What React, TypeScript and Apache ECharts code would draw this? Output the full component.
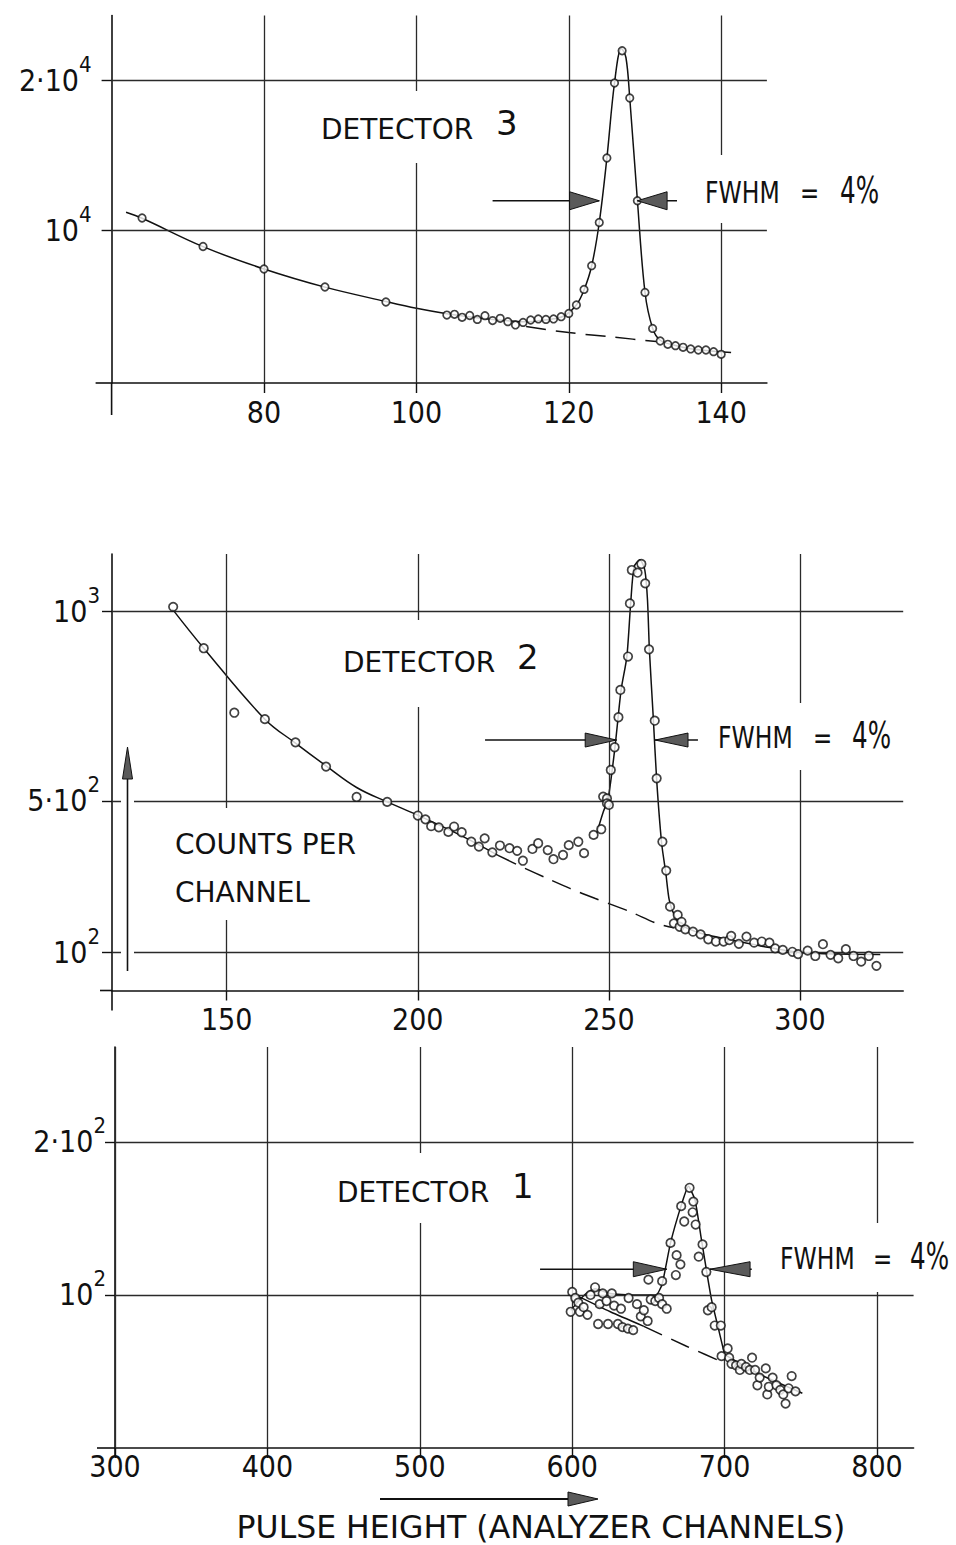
import React, { useEffect, useRef } from "react";
import * as echarts from "echarts";

// ---------------- DETECTOR 3 (top panel) ----------------
const det3Points: [number, number][] = [
  [64, 10800], [72, 8900], [80, 7400], [88, 6200], [96, 5200],
  [104, 4330], [105, 4380], [106, 4180], [107, 4300], [108, 4040], [109, 4290], [110, 3960],
  [111, 4110], [112, 3890], [113, 3670], [114, 3840], [115, 4000], [116, 4070], [117, 4040],
  [118, 4070], [119, 4220], [120, 4440], [121, 5000], [122, 6040], [123, 7620], [124, 10500],
  [125, 14800], [126, 19800], [127, 21950], [128, 18800], [129, 11950], [130, 5840], [131, 3440],
  [132, 2600], [133, 2380], [134, 2290], [135, 2180], [136, 2070], [137, 2000], [138, 2000],
  [139, 1890], [140, 1710],
];
const det3Fit: [number, number][] = [
  [61.9, 11180], [64, 10780], [72, 8890], [80, 7400], [88, 6190], [96, 5230], [100, 4780],
  [104, 4420], [108, 4150], [112, 3950], [114, 3880], [116, 3950], [118, 4080], [119.5, 4300],
  [121, 5000], [122, 6000], [123, 7600], [124, 10500], [125, 14800], [126, 19800], [126.9, 22100],
  [127.5, 21500], [128, 18800], [129, 12000], [130, 5850], [131, 3450], [132, 2650], [134, 2300],
  [136, 2080], [138, 1960], [141.3, 1830],
];
const det3Base: [number, number][] = [[114.4, 3560], [120, 3160], [126, 2850], [131.5, 2560]];
const det3XTicks = [80, 100, 120, 140];
const det3YTicks = [10000, 20000];
const det3YTickText = [["10", "4"], ["2·10", "4"]];

// ---------------- DETECTOR 2 (middle panel) ----------------
const det2Points: [number, number][] = [
  [136, 1011], [144, 902], [152, 732], [160, 715], [168, 654], [176, 590], [184, 510], [192, 497],
  [200, 461], [202, 451], [203.5, 433], [205.5, 430], [208, 418], [209.5, 432], [211.5, 417],
  [214, 392], [216, 379], [217.5, 401], [219.5, 364], [221.5, 382], [224, 375], [226, 368],
  [227.5, 342], [230, 373], [231.5, 388], [234, 370], [235.5, 346], [238, 357], [239.5, 383],
  [242, 392], [243.5, 362], [246, 410], [248, 425], [248.5, 511], [249.5, 506], [249.5, 493],
  [250, 489], [250.5, 581], [251.5, 641], [252.5, 720], [253, 792], [255, 880], [255.5, 1020],
  [256, 1108], [257.5, 1101], [258.5, 1124], [259.5, 1073], [260.5, 899], [262, 711], [262.5, 559],
  [264, 392], [265, 316], [266, 221], [267, 177], [268, 199], [268.5, 168], [269, 181], [270, 161],
  [272, 155], [274, 148], [276, 135], [278, 129], [280, 129], [281.5, 133], [282, 144], [284, 123],
  [286, 142], [288, 126], [290, 129], [292, 126], [293.5, 111], [295.5, 107], [298, 102],
  [299.5, 96], [302, 105], [304, 91], [306, 122], [308, 94], [310, 85], [312, 109], [314, 91],
  [316, 76], [318, 91], [320, 65],
];
const det2FitLeft: [number, number][] = [
  [135.8, 1005], [144, 902], [160, 715], [168, 652], [176, 592], [184, 535],
  [192, 497], [200, 462], [212, 405], [221, 356],
];
const det2FitPeak: [number, number][] = [
  [246.8, 414], [248.5, 470], [249.8, 505], [251.6, 642], [253.2, 792], [254.7, 880],
  [255.7, 1020], [256.6, 1117], [258.1, 1135], [259.4, 1108], [260.1, 1029], [260.6, 897],
  [261.6, 721], [262.5, 555], [263.8, 388], [264.9, 309], [265.8, 238], [267.3, 194], [269, 172],
  [274, 151], [284, 129], [292, 113], [300, 100], [310, 96], [321, 95],
];
const det2Base: [number, number][] = [
  [221, 356], [227.6, 324], [233.7, 296], [239.8, 269], [246.3, 243], [255.5, 208], [262.5, 177],
  [267, 165],
];
const det2XTicks = [150, 200, 250, 300];
const det2YTicks = [100, 500, 1000];
const det2YTickText = [["10", "2"], ["5·10", "2"], ["10", "3"]];

// ---------------- DETECTOR 1 (bottom panel) ----------------
const det1Points: [number, number][] = [
  [599, 89], [600, 102], [602, 98], [604, 95], [605, 89], [607.5, 92], [610, 87], [612, 100],
  [615, 105], [617, 81], [618, 94], [620, 101], [622.5, 96], [623.5, 81], [626, 101], [627.5, 93],
  [630, 81], [632, 91], [633, 79], [636.5, 78], [637, 98], [640, 77], [642.5, 94], [645, 86],
  [647, 90], [649.5, 83], [650, 110], [651.5, 97], [654.5, 96], [657, 98], [659, 109], [659, 94],
  [662, 91],
  [664.5, 134], [668.5, 126], [668, 113], [671, 120], [671.5, 158], [673.5, 148], [677, 170],
  [679, 154], [679.5, 161], [681, 146], [683, 125], [685.5, 133], [688, 115], [689, 90],
  [691.5, 92], [693.5, 80], [697.5, 80],
  [698, 60], [702, 65], [703, 59], [704.5, 55], [707.5, 54], [710, 51], [711, 55], [714, 53],
  [716.5, 51], [718, 59], [720, 51], [721.5, 41], [723, 46], [727, 52], [728, 35], [729, 40],
  [731.5, 46], [734, 41], [736.5, 38], [738.5, 35], [740, 29], [742, 39], [744, 47], [746.5, 37],
];
const det1FitPeak: [number, number][] = [
  [599, 90], [608, 100], [615, 104], [625, 101], [640, 100], [655, 100], [659, 107], [664.5, 134],
  [672, 160], [676.3, 171], [680.6, 162], [684.5, 138], [688.1, 116], [691.4, 97], [695.7, 79],
  [700, 61],
];
const det1FitTail: [number, number][] = [[700, 61], [724, 47.7], [751, 35.8]];
const det1BaseSolid: [number, number][] = [[600, 101], [625, 89], [647, 79.5]];
const det1BaseDash: [number, number][] = [[647, 79.5], [675, 66.5], [700, 55.5]];
const det1XTicks = [300, 400, 500, 600, 700, 800];
const det1YTicks = [100, 200];
const det1YTickText = [["10", "2"], ["2·10", "2"]];

// FWHM markers: [line start, arrow base, arrow tip] and [arrow tip, arrow base, line end]
const fwhmLevels = [11950, 660, 116.8];
const fwhmLeft = [[110, 120.1, 124], [217.6, 243.8, 252], [578.9, 640.1, 662]];
const fwhmRight = [[129, 132.9, 134.2], [262.1, 270.7, 273.3], [690.4, 716.7, 717.8]];

const INK = "#111";
const GRID = "#2a2a2a";
const LABEL_FONT = "'DejaVu Sans Condensed', 'DejaVu Sans', sans-serif";
const TEXT_FONT = "'DejaVu Sans', sans-serif";

const richY = {
  n: { fontSize: 30, lineHeight: 54, fontFamily: LABEL_FONT, color: INK },
  s: { fontSize: 22, lineHeight: 22, verticalAlign: "top", fontFamily: LABEL_FONT, color: INK },
};

function yFormatter(ticks: number[], text: string[][]) {
  return (v: number) => {
    const i = ticks.indexOf(v);
    if (i < 0) return "";
    return `{n|${text[i][0]}}{s|${text[i][1]}}`;
  };
}

function xAxis(grid: number, min: number, max: number, ticks: number[], margin: number) {
  return {
    type: "value",
    gridIndex: grid,
    min,
    max,
    axisLine: { show: true, onZero: false, lineStyle: { color: INK, width: 1.6 } },
    axisTick: { show: true, customValues: ticks, length: 10, lineStyle: { color: INK, width: 1.4 } },
    axisLabel: {
      show: true,
      customValues: ticks,
      margin,
      fontSize: 30,
      fontFamily: LABEL_FONT,
      color: INK,
    },
    splitLine: { show: false },
  };
}

function yAxis(grid: number, min: number, max: number, ticks: number[], text: string[][], margin: number) {
  return {
    type: "value",
    gridIndex: grid,
    min,
    max,
    axisLine: { show: true, onZero: false, lineStyle: { color: INK, width: 1.6 } },
    axisTick: { show: true, customValues: ticks, length: 10, lineStyle: { color: INK, width: 1.4 } },
    axisLabel: {
      show: true,
      customValues: ticks,
      margin,
      formatter: yFormatter(ticks, text),
      rich: richY,
    },
    splitLine: { show: false },
  };
}

function gridLines(xs: number[], ys: number[]) {
  return {
    silent: true,
    symbol: ["none", "none"],
    label: { show: false },
    lineStyle: { color: GRID, width: 1.3, type: "solid" },
    emphasis: { disabled: true },
    data: [...xs.map((x) => ({ xAxis: x })), ...ys.map((y) => ({ yAxis: y }))],
  };
}

function points(grid: number, data: [number, number][], xs: number[], ys: number[], size: number) {
  return {
    type: "scatter",
    xAxisIndex: grid,
    yAxisIndex: grid,
    data,
    symbol: "circle",
    symbolSize: size,
    itemStyle: { color: "#fff", borderColor: INK, borderWidth: 1.7 },
    z: 5,
    silent: true,
    markLine: gridLines(xs, ys),
  };
}

function curve(grid: number, data: [number, number][], dashed: boolean, smooth: number) {
  return {
    type: "line",
    xAxisIndex: grid,
    yAxisIndex: grid,
    data,
    showSymbol: false,
    symbol: "none",
    smooth,
    silent: true,
    lineStyle: { color: INK, width: 1.5, type: dashed ? [20, 10] : "solid" },
    z: 4,
  };
}

const option = {
  animation: false,
  backgroundColor: "#fff",
  grid: [
    { left: 111.6, top: 15.5, width: 655.3, height: 367.5 },
    { left: 112, top: 554.1, width: 791.2, height: 436.4 },
    { left: 115, top: 1047, width: 798.6, height: 401 },
  ],
  xAxis: [
    xAxis(0, 60, 146, det3XTicks, 14),
    xAxis(1, 120, 327, det2XTicks, 14),
    xAxis(2, 300, 824, det1XTicks, 3),
  ],
  yAxis: [
    yAxis(0, -200, 24300, det3YTicks, det3YTickText, 20),
    yAxis(1, 0, 1150, det2YTicks, det2YTickText, 12),
    yAxis(2, 0, 262, det1YTicks, det1YTickText, 9),
  ],
  series: [
    points(0, det3Points, det3XTicks, det3YTicks, 7.5),
    curve(0, det3Fit, false, 0.35),
    curve(0, det3Base, true, 0.3),
    points(1, det2Points, det2XTicks, det2YTicks, 8.5),
    curve(1, det2FitLeft, false, 0.4),
    curve(1, det2FitPeak, false, 0.25),
    curve(1, det2Base, true, 0.3),
    points(2, det1Points, det1XTicks, det1YTicks, 8.5),
    curve(2, det1FitPeak, false, 0.15),
    curve(2, det1FitTail, false, 0.2),
    curve(2, det1BaseSolid, false, 0.2),
    curve(2, det1BaseDash, true, 0.2),
  ],
};

export default function App() {
  const ref = useRef<HTMLDivElement>(null);
  useEffect(() => {
    if (!ref.current) return;
    const chart = echarts.init(ref.current, undefined, { renderer: "svg" });
    chart.setOption(option as any);

    const px = (g: number, x: number, y: number) =>
      chart.convertToPixel({ gridIndex: g } as any, [x, y]) as unknown as number[];

    const g: any[] = [];
    const line = (x1: number, y1: number, x2: number, y2: number, w = 1.5) =>
      g.push({ type: "line", z: 50, silent: true, shape: { x1, y1, x2, y2 }, style: { stroke: INK, lineWidth: w } });
    const tri = (pts: number[][]) =>
      g.push({ type: "polygon", z: 51, silent: true, shape: { points: pts }, style: { fill: "#5a5a5a", stroke: INK, lineWidth: 1 } });
    const whiteBox = (x: number, y: number, w: number, h: number) =>
      g.push({ type: "rect", z: 49, silent: true, shape: { x, y, width: w, height: h }, style: { fill: "#fff" } });
    const text = (t: string, x: number, y: number, font: string, sx = 1, align = "left") =>
      g.push({
        type: "text",
        z: 52,
        silent: true,
        x,
        y,
        scaleX: sx,
        style: { text: t, x: 0, y: 0, font, fill: INK, align, verticalAlign: "middle" },
      });

    // FWHM arrows
    const halves = [9, 7, 7.5];
    for (let i = 0; i < 3; i++) {
      const lv = fwhmLevels[i];
      const [ls, lb, lt] = fwhmLeft[i];
      const [rt, rb, re] = fwhmRight[i];
      const a = px(i, ls, lv), b = px(i, lb, lv), c = px(i, lt, lv);
      const d = px(i, rt, lv), e = px(i, rb, lv), f = px(i, re, lv);
      const h = halves[i];
      line(a[0], a[1], c[0], c[1], 1.4);
      tri([[b[0], b[1] - h], [c[0], c[1]], [b[0], b[1] + h]]);
      line(d[0], d[1], f[0], f[1], 1.4);
      tri([[e[0], e[1] - h], [d[0], d[1]], [e[0], e[1] + h]]);
    }

    // axis extensions (x axis reaching left of y axis, y axis reaching below x axis)
    const ext = [
      { x: 60, y: -200, down: 32, left: 16 },
      { x: 120, y: 0, down: 20, left: 12 },
      { x: 300, y: 0, down: 9, left: 18 },
    ];
    ext.forEach((o, i) => {
      const p = px(i, o.x, o.y);
      line(p[0], p[1], p[0], p[1] + o.down, 1.6);
      line(p[0] - o.left, p[1], p[0], p[1], 1.6);
    });

    // detector titles
    const det = "28px " + TEXT_FONT;
    const big = "34px " + TEXT_FONT;
    whiteBox(316, 91, 164, 72);
    text("DETECTOR", 321, 129, det);
    text("3", 496, 123, big);
    whiteBox(338, 620, 166, 87);
    text("DETECTOR", 343, 662, det);
    text("2", 517, 657, big);
    whiteBox(332, 1153, 166, 70);
    text("DETECTOR", 337, 1192, det);
    text("1", 512, 1186, big);

    // FWHM captions
    const fw = "30px " + LABEL_FONT;
    const fwBig = "38px " + LABEL_FONT;
    const fwhmText = [
      { x: 705, y: 193, eq: 95, pct: 135, top: 155, bottom: 223 },
      { x: 718, y: 738, eq: 95, pct: 134, top: 703, bottom: 770 },
      { x: 780, y: 1259, eq: 93, pct: 130, top: 1223, bottom: 1292 },
    ];
    fwhmText.forEach((o) => {
      whiteBox(o.x - 8, o.top, o.pct + 52, o.bottom - o.top);
      text("FWHM", o.x, o.y, fw, 0.87);
      text("=", o.x + o.eq, o.y, fw, 0.85);
      text("4%", o.x + o.pct, o.y - 3, fwBig, 0.72);
    });

    // counts per channel with vertical arrow
    whiteBox(121, 744, 13, 230);
    line(127.5, 971, 127.5, 775, 1.6);
    tri([[122.5, 779], [127.5, 747], [132.5, 779]]);
    whiteBox(168, 808, 205, 112);
    text("COUNTS PER", 175, 844, det);
    text("CHANNEL", 175, 892, det);

    // bottom axis title with arrow
    line(380, 1499, 572, 1499, 1.8);
    tri([[568, 1492], [598, 1499], [568, 1506]]);
    text("PULSE HEIGHT (ANALYZER CHANNELS)", 541, 1527, "31.5px " + TEXT_FONT, 1, "center");

    chart.setOption({ graphic: g });
    return () => chart.dispose();
  }, []);
  return (
    <div
      ref={ref}
      style={{ position: "absolute", left: 0, top: 0, width: 956, height: 1545, background: "#fff" }}
    />
  );
}
